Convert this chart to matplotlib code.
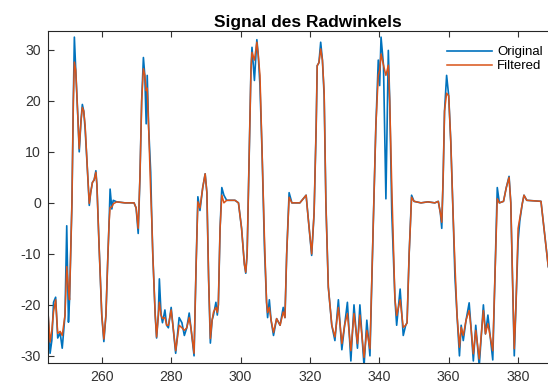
import matplotlib
matplotlib.use("Agg")
import matplotlib.pyplot as plt

# values (time, filtered, original)
t = [244.5, 245.1, 245.6, 246.1, 246.7, 247.3, 248.0, 248.6, 249.4, 249.9,
     250.4, 250.7, 251.4, 251.8, 252.1, 252.5, 253.1, 253.5, 254.0, 254.4,
     254.8, 255.2, 255.9, 256.4, 256.8, 257.3, 257.8, 258.3, 258.6, 259.2,
     260.0, 260.6, 261.2, 261.7, 262.1, 262.4, 262.9, 263.3, 264.3, 266.7,
     269.3, 269.9, 270.5, 271.0, 271.5, 272.0, 272.4, 272.8, 273.1, 273.5,
     274.1, 274.4, 274.7, 275.4, 275.8, 276.3, 276.6, 277.1, 277.5, 278.2,
     278.7, 279.2, 280.0, 280.5, 281.3, 282.3, 283.1, 283.8, 284.5, 285.2,
     285.7, 286.6, 287.2, 287.7, 288.3, 289.1, 289.8, 290.3, 290.8, 291.3,
     291.8, 292.2, 292.9, 293.3, 293.6, 294.1, 294.6, 295.2, 296.0, 298.4,
     299.4, 300.3, 301.1, 301.5, 301.9, 302.5, 303.0, 303.3, 304.0, 304.7,
     305.1, 305.6, 306.2, 306.9, 307.5, 307.8, 308.3, 308.8, 309.5, 310.4,
     311.4, 312.3, 312.8, 313.3, 314.0, 314.8, 317.1, 318.9, 319.5, 320.5,
     321.2, 321.8, 322.1, 322.6, 323.1, 323.6, 324.1, 324.6, 325.3, 326.3,
     327.2, 328.2, 329.2, 330.0, 330.8, 331.8, 332.7, 333.7, 334.4, 335.6,
     336.4, 337.3, 338.3, 339.0, 339.7, 340.1, 340.5, 341.2, 341.9, 342.6,
     343.0, 343.6, 344.5, 345.0, 346.0, 346.9, 347.6, 348.0, 348.6, 349.3,
     350.0, 352.0, 354.0, 356.0, 357.0, 357.6, 358.0, 358.4, 358.8, 359.4,
     360.0, 360.6, 361.3, 361.8, 362.4, 363.1, 363.6, 364.2, 365.0, 365.9,
     366.5, 367.1, 367.8, 368.8, 370.0, 370.6, 371.3, 372.7, 373.3, 374.0,
     374.6, 375.8, 376.6, 377.4, 377.9, 378.4, 378.9, 379.4, 380.0, 380.5,
     381.2, 381.7, 382.5, 386.6, 387.8, 388.7, 389.5]

filtered = [-21.4, -27.3, -25, -21.4, -19, -25.6, -25.2, -26, -22, -12.5,
            -17, -19, 0, 20, 27.6, 26, 17, 10.6, 16, 18.7,
            18, 15.2, 6, -0.1, 2, 4.0, 4.5, 6.0, 3.5, -8,
            -22, -26.7, -22, -11.6, -4, -0.9, -0.8, -0.2, 0.2, 0,
            0, -1, -5.0, 5, 20, 26.3, 25, 22.0, 22.5, 15,
            2, -3, -10, -22, -26.3, -22, -19.5, -22, -22.7, -22.5,
            -24, -24, -21, -24, -29, -24, -24.5, -25, -24.5, -22.5,
            -24.5, -29.5, -12, 0.2, -1, 3, 5.7, 2, -15, -26.6,
            -23, -21.4, -20.5, -21.5, -20, -5, 1.5, 0, 0.5, 0.5,
            0, -5, -12, -13.6, -10, 10, 26, 29.5, 28, 31.5,
            29, 25, 10, -7.1, -19.5, -21.5, -20.5, -23, -25.4, -22.7,
            -24, -21.4, -22.5, -10, 1.1, 0, 0, 1.5, -3, -10,
            -2, 15, 26.9, 27.5, 30.2, 28, 21.7, 0, -16.5, -24,
            -26.3, -20.5, -27.6, -24, -21.7, -29, -21.7, -27.6, -22, -30.3,
            -25, -28.6, -2.5, 15, 25, 26, 29.2, 27, 25, 27,
            20, 3, -18.8, -22.1, -19, -24.4, -24, -23.5, -10, 1.1,
            0.3, 0, 0.2, 0, 0.3, -2, -3.8, 5, 18, 21.5,
            21, 12, -3, -12, -22, -28.3, -24.4, -26, -23, -21.1,
            -25, -29.6, -25, -30.6, -21.1, -25.7, -23.7, -29, -15, 0.8,
            0, 0.3, 3, 5.0, 0, -15, -28.6, -20, -5, -3,
            -0.2, 1.5, 0.5, 0.3, -7, -12.5, -14]

original = [-21.4, -29.5, -27, -19.5, -18.5, -26.5, -25.5, -28.5, -22, -4.5,
            -23.4, -19, 0, 20, 32.5, 26, 17, 10, 16, 19.3,
            18, 14.5, 6, -0.5, 2, 4, 4.5, 6.3, 3.5, -8,
            -22, -27.2, -22, -11.6, -4, 2.7, -1.2, 0.5, 0.2, 0,
            0, -1, -6, 5, 20, 28.5, 25, 15.5, 25, 15,
            6, -2.8, -10, -22, -26.5, -22, -14.9, -22, -23.5, -21,
            -24, -24.5, -20.5, -24, -29.5, -22.5, -23.5, -26, -24.5, -21.6,
            -24.5, -30, -12, 1.2, -1.5, 3, 5.7, 2, -15, -27.5,
            -23, -22, -19.5, -22, -20, -5, 3, 1.5, 0.5, 0.5,
            0, -5, -12, -13.8, -10, 10, 26, 30.5, 24, 32,
            29, 23, 10, -9, -19.5, -22.5, -19, -23, -26, -22.7,
            -24, -20.5, -22.5, -10, 2, 0, 0, 1.5, -3, -10.3,
            -2, 15, 26.9, 27.5, 31.5, 28, 21, 0, -16.5, -24,
            -27, -19, -28.8, -24, -19.5, -31, -20, -28.5, -20, -32,
            -23, -30, -3, 15, 28, 23, 32.5, 27, 0.8, 29.9,
            20, -2, -18.8, -24, -16.9, -26, -24, -23.5, -10, 1.5,
            0.3, 0, 0.2, 0, 0.3, -2, -5, 5, 18, 25,
            21, 12, -3, -14.5, -22, -30, -24, -27, -23, -19.6,
            -25, -31, -24, -32, -20, -25.7, -22, -30.8, -15, 3,
            0, 0.3, 3, 5.2, 0, -15, -30, -20, -7.5, -3.5,
            -0.2, 1.5, 0.5, 0.3, -7, -12.5, -14]

x_ticks = [260, 280, 300, 320, 340, 360, 380]
y_ticks = [-30, -20, -10, 0, 10, 20, 30]

plt.rcParams['font.family'] = ['Liberation Sans', 'DejaVu Sans']
plt.rcParams['axes.unicode_minus'] = False

fig = plt.figure(figsize=(5.48, 3.86), dpi=100)
# axes run past the right edge of the picture, as in the cropped reference
ax = fig.add_axes([48 / 548, 23 / 386, 519 / 548, 332 / 386])

ax.plot(t, original, color='#0072BD', lw=1.2, label='Original')
ax.plot(t, filtered, color='#D95319', lw=1.1, label='Filtered')

ax.set_xlim(244.5, 394.1)
ax.set_ylim(-31.4, 33.7)
ax.set_xticks(x_ticks)
ax.set_yticks(y_ticks)
ax.tick_params(direction='in', length=4, width=0.8, top=True, right=True,
               labelsize=10.2, colors='#333333', pad=5)
for s in ax.spines.values():
    s.set_color('#262626')
    s.set_linewidth(0.8)

ax.set_title('Signal des Radwinkels', fontsize=12.5, fontweight='bold',
             color='black', pad=3)

ax.legend(loc='upper left', bbox_to_anchor=(447 / 548, 1 - 46 / 386),
          bbox_transform=fig.transFigure, frameon=False, fontsize=9.5,
          handlelength=3.4, handletextpad=0.4, labelspacing=0.15,
          borderpad=0, borderaxespad=0)

fig.savefig('out.png', dpi=100)
